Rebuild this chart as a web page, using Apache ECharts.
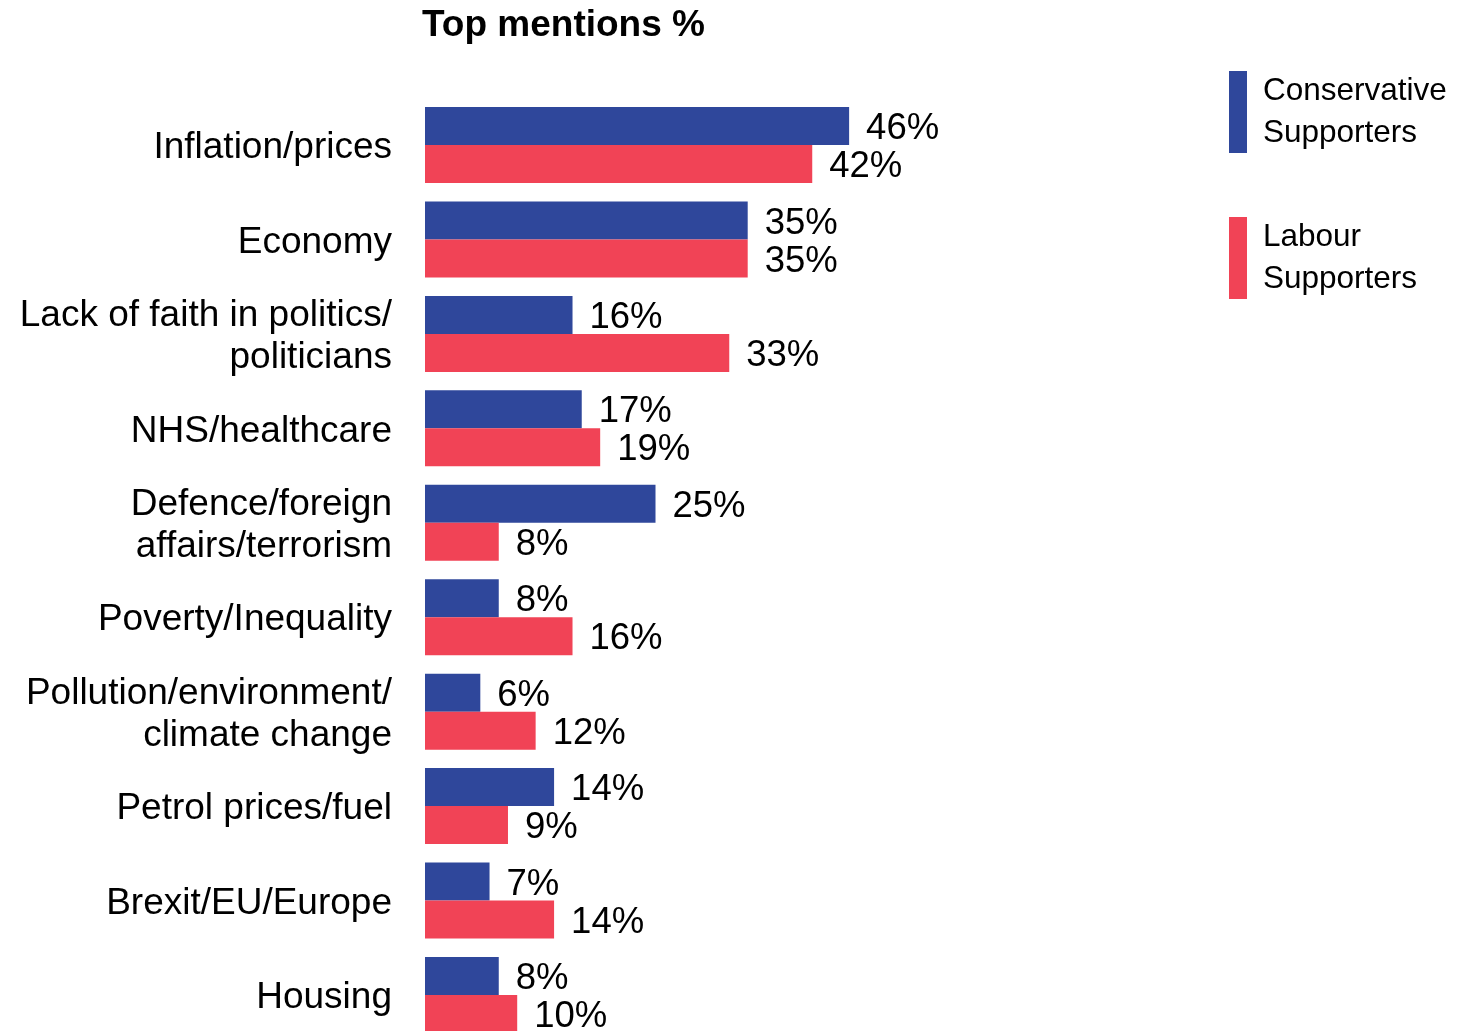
<!DOCTYPE html>
<html>
<head>
<meta charset="utf-8">
<script src="https://cdn.jsdelivr.net/npm/echarts@6/dist/echarts.min.js"></script>
<style>
    html, body { margin: 0; padding: 0; background: #fff; }
    #chart { width: 1476px; height: 1031px; }
</style>
</head>
<body>
<div id="chart"></div>
<script>
// data
var categorias = [
    'Inflation/prices',
    'Economy',
    'Lack of faith in politics/\npoliticians',
    'NHS/healthcare',
    'Defence/foreign\naffairs/terrorism',
    'Poverty/Inequality',
    'Pollution/environment/\nclimate change',
    'Petrol prices/fuel',
    'Brexit/EU/Europe',
    'Housing'
];
var conservadores = [46, 35, 16, 17, 25, 8, 6, 14, 7, 8];
var trabalhistas = [42, 35, 33, 19, 8, 16, 12, 9, 14, 10];
var nomesSeries = ['Conservative\nSupporters', 'Labour\nSupporters'];

var fonte = '"Liberation Sans", Arial, sans-serif';

function CriaGrafico() {
    var chartDom = document.getElementById('chart');
    var myChart = echarts.init(chartDom);

    var rotulo = {
        show: true,
        position: 'right',
        distance: 17,
        offset: [0, 3],
        formatter: '{c}%',
        fontFamily: fonte,
        fontSize: 36.5,
        color: '#000'
    };

    var option = {
        animation: false,
        title: {
            text: 'Top mentions %',
            left: 422,
            top: 7,
            padding: 0,
            textStyle: {
                fontFamily: fonte,
                fontSize: 37,
                fontWeight: 'bold',
                color: '#000'
            }
        },
        legend: {
            orient: 'vertical',
            left: 1229,
            top: 70,
            padding: 0,
            icon: 'rect',
            itemWidth: 18,
            itemHeight: 82,
            itemGap: 62,
            textStyle: {
                fontFamily: fonte,
                fontSize: 31.5,
                lineHeight: 42,
                color: '#000',
                padding: [0, 0, 0, 11]
            },
            data: nomesSeries
        },
        grid: {
            left: 425,
            top: 97.8,
            width: 461,
            height: 944.4,
            containLabel: false,
            outerBoundsMode: 'none'
        },
        xAxis: {
            type: 'value',
            min: 0,
            max: 50,
            show: false
        },
        yAxis: {
            type: 'category',
            inverse: true,
            data: categorias,
            axisLine: { show: false },
            axisTick: { show: false },
            splitLine: { show: false },
            axisLabel: {
                margin: 33,
                align: 'right',
                // each line wrapped so it sits a little lower, as in the original
                formatter: function (v) {
                    return v.split('\n').map(function (s) { return '{a|' + s + '}'; }).join('\n');
                },
                rich: {
                    a: {
                        fontFamily: fonte,
                        fontSize: 37,
                        lineHeight: 42,
                        padding: [6, 0, 0, 0],
                        color: '#000'
                    }
                }
            }
        },
        series: [
            {
                name: nomesSeries[0],
                type: 'bar',
                data: conservadores,
                barWidth: 38,
                barGap: '0%',
                itemStyle: { color: '#2F479B' },
                label: rotulo
            },
            {
                name: nomesSeries[1],
                type: 'bar',
                data: trabalhistas,
                barWidth: 38,
                barGap: '0%',
                itemStyle: { color: '#F14356' },
                label: rotulo
            }
        ]
    };

    option && myChart.setOption(option);
}

CriaGrafico();
</script>
</body>
</html>
